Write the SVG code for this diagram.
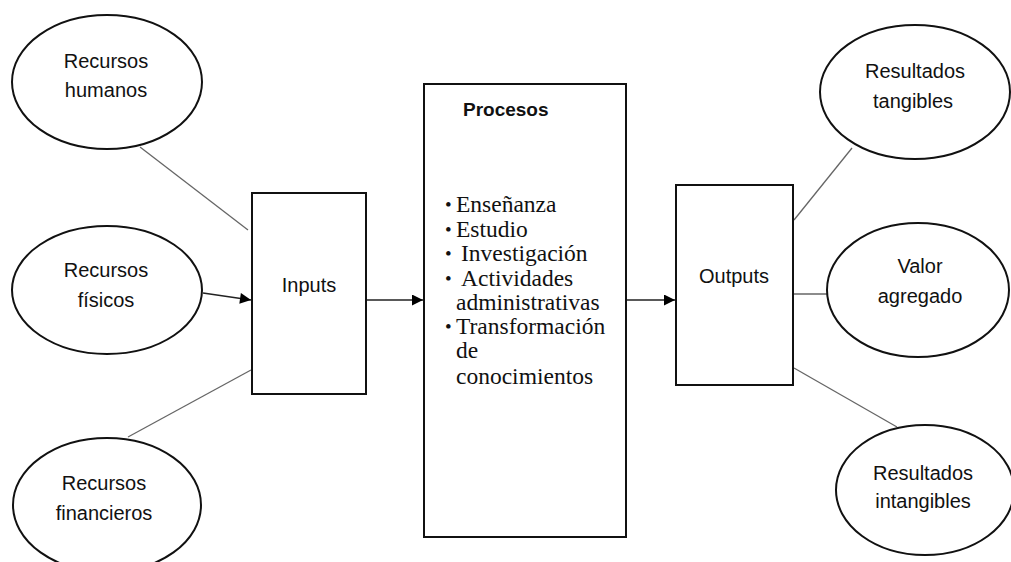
<svg xmlns="http://www.w3.org/2000/svg" width="1011" height="562" viewBox="0 0 1011 562">
<defs>
<style>
.shape{fill:#fff;stroke:#111;stroke-width:2}
.lbl{font-family:"Liberation Sans",Arial,sans-serif;font-size:20px;fill:#111;text-anchor:middle}
.bold{font-weight:bold;text-anchor:start;font-size:19px}
.ser{font-family:"Liberation Serif","Times New Roman",serif;font-size:23.5px;fill:#111}
.bul{font-size:19px}
.thin{stroke:#666;stroke-width:1.3;fill:none}
.arr{stroke:#222;stroke-width:1.5;fill:none;marker-end:url(#ah)}
</style>
<marker id="ah" viewBox="0 0 10 10" refX="10" refY="5" markerWidth="13" markerHeight="11" markerUnits="userSpaceOnUse" orient="auto">
<path d="M0,0 L10,5 L0,10 z" fill="#000"/>
</marker>
</defs>
<rect width="1011" height="562" fill="#fff"/>
<g id="connectors">
<line class="thin" x1="140" y1="147" x2="248" y2="230"/>
<line class="arr" x1="203" y1="293" x2="251" y2="300"/>
<line class="thin" x1="128" y1="437" x2="251" y2="370"/>
<line class="arr" x1="366" y1="300" x2="423" y2="300"/>
<line class="arr" x1="627" y1="300" x2="675" y2="300"/>
<line class="thin" x1="794" y1="220" x2="852" y2="148"/>
<line class="thin" x1="794" y1="294" x2="832" y2="294"/>
<line class="thin" x1="794" y1="368" x2="897" y2="427"/>
</g>
<g id="rec-humanos">
<ellipse class="shape" cx="107" cy="82" rx="95" ry="67"/>
<text class="lbl" x="106" y="68">Recursos</text>
<text class="lbl" x="106" y="97">humanos</text>
</g>
<g id="rec-fisicos">
<ellipse class="shape" cx="107" cy="290" rx="95" ry="64"/>
<text class="lbl" x="106" y="277">Recursos</text>
<text class="lbl" x="106" y="307">físicos</text>
</g>
<g id="rec-financieros">
<ellipse class="shape" cx="107" cy="505" rx="94" ry="67"/>
<text class="lbl" x="104" y="490">Recursos</text>
<text class="lbl" x="104" y="520">financieros</text>
</g>
<g id="inputs">
<rect class="shape" x="252" y="193" width="114" height="201"/>
<text class="lbl" x="309" y="292">Inputs</text>
</g>
<g id="procesos">
<rect class="shape" x="424" y="84" width="202" height="453"/>
<text class="lbl bold" x="463" y="116">Procesos</text>
<g class="ser">
<text class="bul" x="445" y="211">•</text><text x="456" y="212">Enseñanza</text>
<text class="bul" x="445" y="236">•</text><text x="456" y="237">Estudio</text>
<text class="bul" x="445" y="260">•</text><text x="461" y="261">Investigación</text>
<text class="bul" x="445" y="285">•</text><text x="461" y="286">Actividades</text>
<text x="456" y="310">administrativas</text>
<text class="bul" x="445" y="333">•</text><text x="456" y="334">Transformación</text>
<text x="456" y="358">de</text>
<text x="456" y="384">conocimientos</text>
</g>
</g>
<g id="outputs">
<rect class="shape" x="676" y="185" width="117" height="200"/>
<text class="lbl" x="734" y="283">Outputs</text>
</g>
<g id="res-tangibles">
<ellipse class="shape" cx="915" cy="92" rx="95" ry="67"/>
<text class="lbl" x="915" y="78">Resultados</text>
<text class="lbl" x="913" y="108">tangibles</text>
</g>
<g id="valor-agregado">
<ellipse class="shape" cx="918" cy="290" rx="91" ry="67"/>
<text class="lbl" x="920" y="273">Valor</text>
<text class="lbl" x="920" y="303">agregado</text>
</g>
<g id="res-intangibles">
<ellipse class="shape" cx="925" cy="490" rx="89" ry="65"/>
<text class="lbl" x="923" y="480">Resultados</text>
<text class="lbl" x="923" y="508">intangibles</text>
</g>
</svg>
